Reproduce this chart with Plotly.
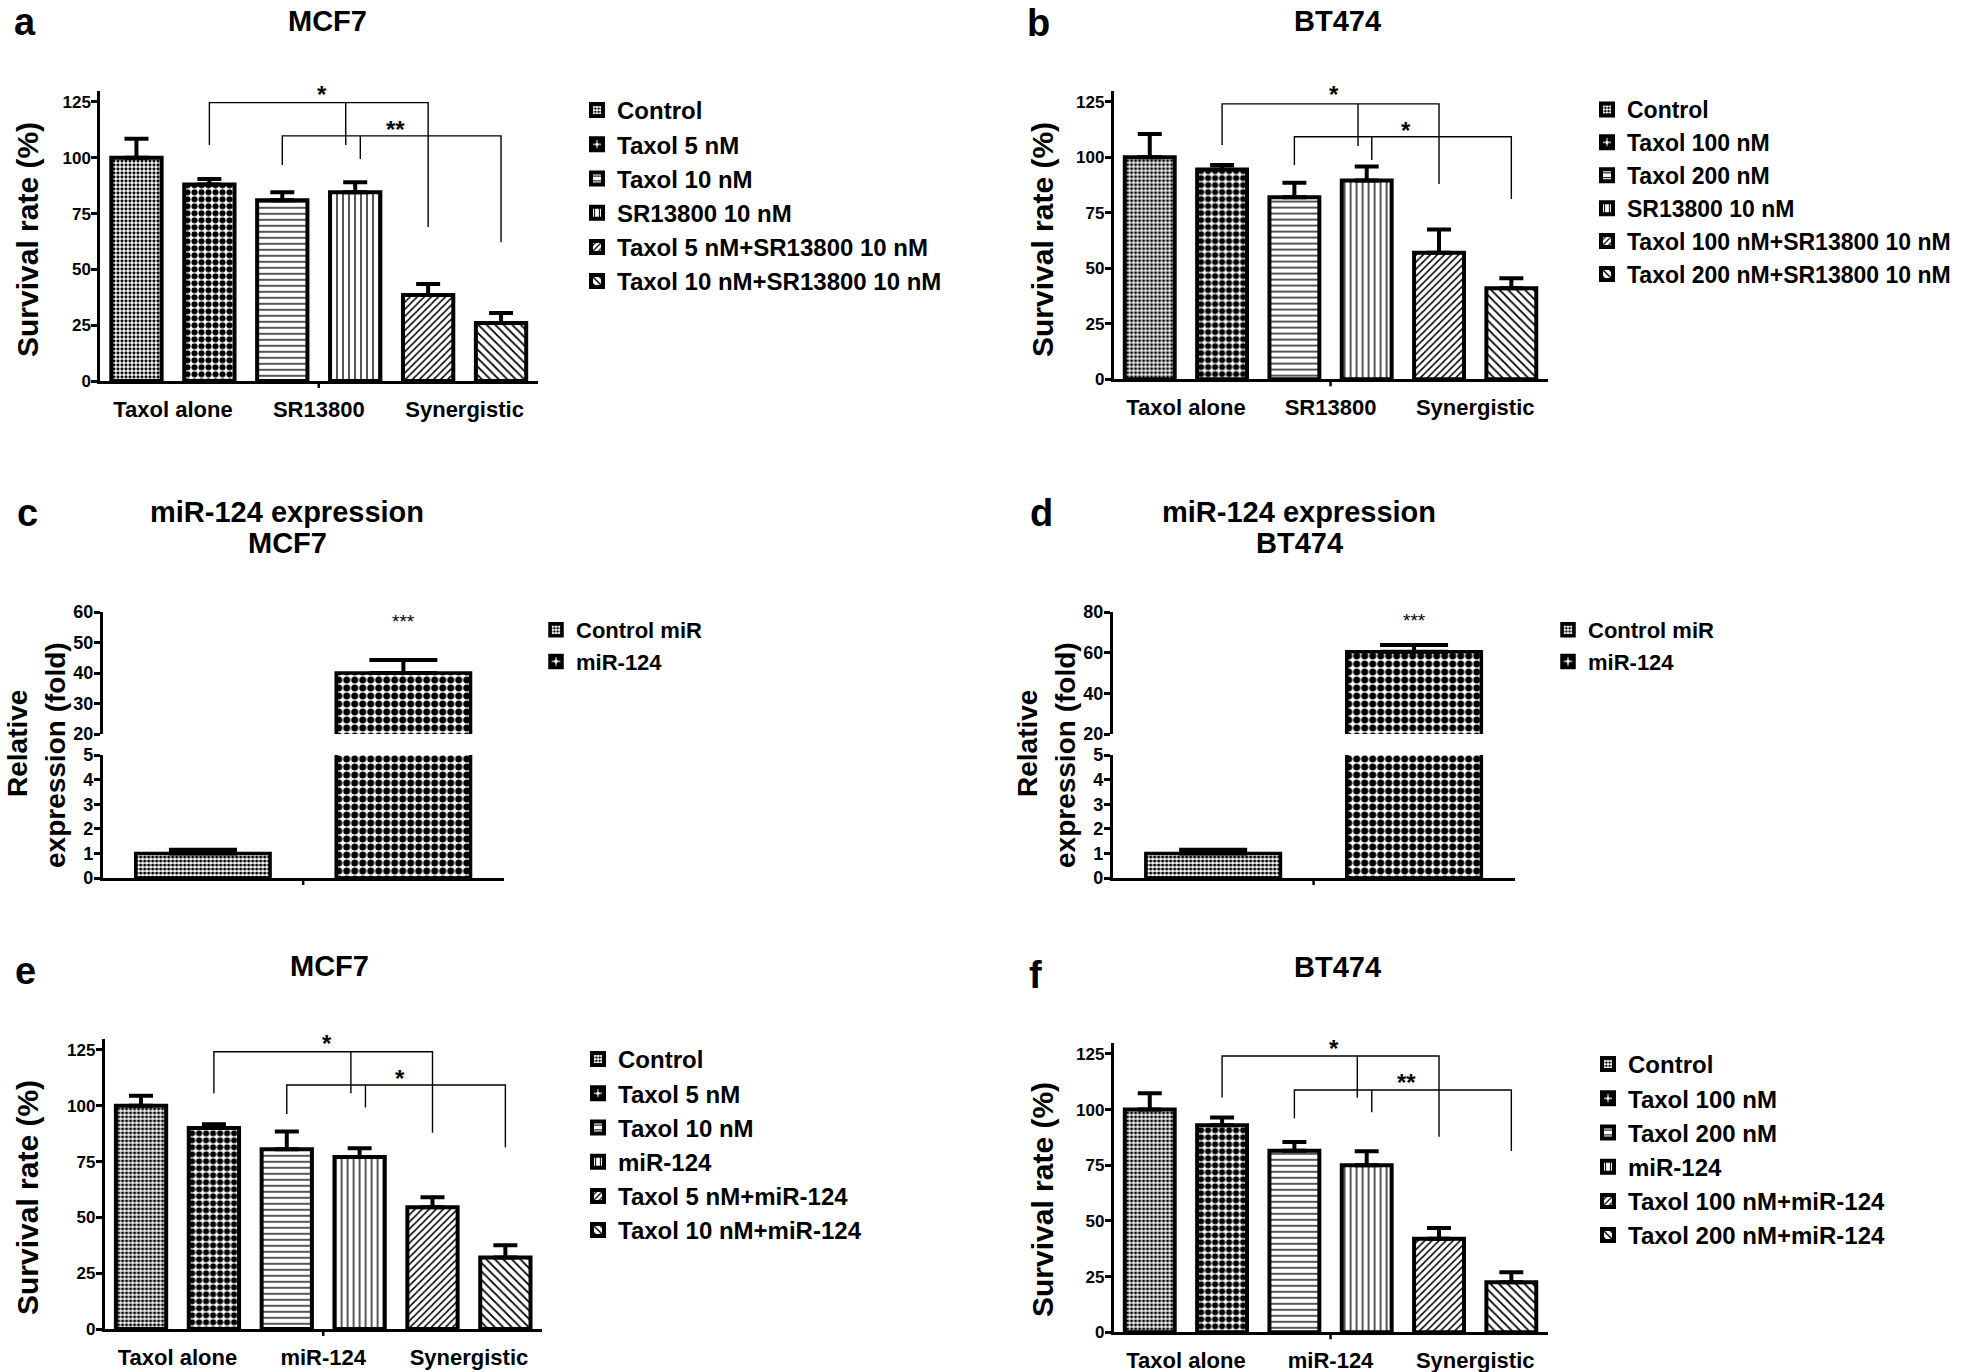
import plotly.graph_objects as go

W, H = 1961, 1372
FONT = "Liberation Sans, Arial, sans-serif"
YMAX = 130

# ---- data ----
groups_sr = ["Taxol alone", "SR13800", "Synergistic"]
groups_mir = ["Taxol alone", "miR-124", "Synergistic"]

names_a = ["Control", "Taxol 5 nM", "Taxol 10 nM", "SR13800 10 nM",
           "Taxol 5 nM+SR13800 10 nM", "Taxol 10 nM+SR13800 10 nM"]
names_b = ["Control", "Taxol 100 nM", "Taxol 200 nM", "SR13800 10 nM",
           "Taxol 100 nM+SR13800 10 nM", "Taxol 200 nM+SR13800 10 nM"]
names_e = ["Control", "Taxol 5 nM", "Taxol 10 nM", "miR-124",
           "Taxol 5 nM+miR-124", "Taxol 10 nM+miR-124"]
names_f = ["Control", "Taxol 100 nM", "Taxol 200 nM", "miR-124",
           "Taxol 100 nM+miR-124", "Taxol 200 nM+miR-124"]
names_mir = ["Control miR", "miR-124"]

survival_a = [100, 88, 81, 84.5, 38.5, 26]
sem_a = [8.5, 2.5, 3.5, 4.5, 5, 4.5]
survival_b = [100, 94.5, 82, 89.5, 57, 41]
sem_b = [10.5, 2, 6.5, 6.3, 10.5, 4.5]
survival_e = [100, 90, 80.5, 77, 54.5, 32]
sem_e = [4.5, 1.7, 8, 4, 4.5, 5.5]
survival_f = [100, 93, 81.5, 75, 42, 22.5]
sem_f = [7.3, 3.5, 3.9, 6.3, 4.8, 4.5]

expr_c = [1, 40]
sem_c = [0.15, 4.3]
expr_d = [1, 60.5]
sem_d = [0.15, 3.3]

# brackets: left bar, middle drop x, right bar, top, left drop, middle drop, right drop, label, label x, label y
brackets_a = [(1, 2.87, 4, 124.7, 105.7, 105.7, 69, "*", 2.55, 131),
              (2, 3.07, 5, 109.8, 96.8, 99.4, 62.2, "**", 3.55, 115)]
brackets_b = [(1, 2.88, 4, 124, 105.5, 105, 87.9, "*", 2.55, 130.6),
              (2, 3.07, 5, 109.2, 96.5, 98.8, 81.2, "*", 3.55, 114.5)]
brackets_e = [(1, 2.88, 4, 124.2, 105.6, 105.6, 87.9, "*", 2.55, 130.2),
              (2, 3.08, 5, 109.3, 96.3, 99.2, 81.4, "*", 3.55, 114.7)]
brackets_f = [(1, 2.87, 4, 124.1, 105.4, 105.4, 87.8, "*", 2.55, 129.8),
              (2, 3.07, 5, 108.8, 96.1, 98.8, 81.4, "**", 3.55, 114.5)]

# ---- styling ----
PATTERNS = [dict(shape=".", size=4, solidity=0.5),
            dict(shape=".", size=7, solidity=0.6),
            dict(shape="-", size=6, solidity=0.22),
            dict(shape="|", size=6, solidity=0.22),
            dict(shape="/", size=5, solidity=0.3),
            dict(shape="\\", size=6, solidity=0.3)]
PATTERNS_MIR = [dict(shape=".", size=4, solidity=0.5),
                dict(shape=".", size=8, solidity=0.6)]


def px(xp):
    return xp / W


def py(yp):
    return 1 - yp / H


def key(ax):
    return ax[0] + "axis" + ax[1:]


def bold(size):
    return dict(family=FONT, size=size, color="black", weight="bold")


fig = go.Figure()
layout = dict(width=W, height=H, margin=dict(l=0, r=0, t=0, b=0, autoexpand=False),
              paper_bgcolor="white", plot_bgcolor="white", barmode="overlay",
              showlegend=True)
annotations = []
shapes = []


def text(x, y, s, size, angle=0):
    annotations.append(dict(x=px(x), y=py(y), xref="paper", yref="paper", text=s,
                            showarrow=False, font=bold(size), textangle=angle,
                            xanchor="center", yanchor="middle"))


def legend_cfg(text_x, first_y, size):
    return dict(x=px(text_x - 40), y=py(first_y - 21), xanchor="left", yanchor="top",
                font=bold(size), bgcolor="rgba(0,0,0,0)", borderwidth=0,
                tracegroupgap=0)


def survival_panel(xa, ya, xdom, ydom, names, vals, errs, groups, brackets, leg):
    for i, (n, v, e) in enumerate(zip(names, vals, errs)):
        fig.add_trace(go.Bar(
            x=[i], y=[v], width=0.69, name=n, legend=leg, xaxis=xa, yaxis=ya,
            marker=dict(color="white", line=dict(color="black", width=4),
                        pattern=dict(fgcolor="black", bgcolor="white",
                                     fillmode="replace", **PATTERNS[i])),
            error_y=dict(type="data", array=[e], arrayminus=[0], symmetric=False,
                         color="black", thickness=4, width=12),
            hoverinfo="skip"))
    for (l, m, r, top, ld, md, rd, lab, lx, ly) in brackets:
        fig.add_trace(go.Scatter(
            x=[l, l, r, r, None, m, m], y=[ld, top, top, rd, None, top, md],
            mode="lines", line=dict(color="black", width=1.4),
            showlegend=False, hoverinfo="skip", xaxis=xa, yaxis=ya))
        annotations.append(dict(x=lx, y=ly / YMAX, xref=xa, yref=ya + " domain",
                                text=lab, showarrow=False, font=bold(24), yshift=10))
    layout[key(xa)] = dict(domain=[px(xdom[0]), px(xdom[1])], range=[-0.5, 5.5],
                           anchor=ya, showline=True, linewidth=2.5, linecolor="black",
                           tickvals=[0.5, 2.5, 4.5], ticktext=groups, ticks="",
                           tickfont=bold(22), ticklabelstandoff=7,
                           showgrid=False, zeroline=False)
    layout[key(ya)] = dict(domain=[py(ydom[1]), py(ydom[0])], range=[0, YMAX],
                           anchor=xa, showline=True, linewidth=2.5, linecolor="black",
                           ticks="outside", ticklen=6, tickwidth=2.5, tickcolor="black",
                           tickvals=[0, 25, 50, 75, 100, 125], tickfont=bold(17),
                           ticklabelstandoff=-3, showgrid=False, zeroline=False)
    shapes.append(dict(type="line", xref=xa, yref=ya + " domain", x0=2.5, x1=2.5,
                       y0=0, y1=-7 / (ydom[1] - ydom[0]),
                       line=dict(color="black", width=2.5)))


def expression_panel(xa, ylo, yhi, xdom, names, vals, errs, up_range, up_ticks, leg, star_y):
    lo_dom = (755, 878)
    hi_dom = (612, 734)
    for i, (n, v, e) in enumerate(zip(names, vals, errs)):
        for ya, show in ((ylo, True), (yhi, False)):
            fig.add_trace(go.Bar(
                x=[i], y=[v], width=0.67, name=n, legend=leg, showlegend=show,
                xaxis=xa, yaxis=ya,
                marker=dict(color="white", line=dict(color="black", width=3.5),
                            pattern=dict(fgcolor="black", bgcolor="white",
                                         fillmode="replace", **PATTERNS_MIR[i])),
                error_y=dict(type="data", array=[e], arrayminus=[0], symmetric=False,
                             color="black", thickness=4, width=34),
                hoverinfo="skip"))
    annotations.append(dict(x=1, y=star_y, xref=xa, yref=yhi, text="***", showarrow=False,
                            font=dict(family=FONT, size=19, color="black")))
    layout[key(xa)] = dict(domain=[px(xdom[0]), px(xdom[1])], range=[-0.5, 1.5],
                           anchor=ylo, showline=True, linewidth=2.5, linecolor="black",
                           showticklabels=False, ticks="", showgrid=False, zeroline=False)
    common = dict(anchor=xa, showline=True, linewidth=2.5, linecolor="black",
                  ticks="outside", ticklen=6, tickwidth=2.5, tickcolor="black",
                  tickfont=bold(18), ticklabelstandoff=-3,
                  showgrid=False, zeroline=False)
    layout[key(ylo)] = dict(domain=[py(lo_dom[1]), py(lo_dom[0])], range=[0, 5],
                            tickvals=[0, 1, 2, 3, 4, 5], **common)
    layout[key(yhi)] = dict(domain=[py(hi_dom[1]), py(hi_dom[0])], range=up_range,
                            tickvals=up_ticks, **common)
    shapes.append(dict(type="line", xref=xa, yref=ylo + " domain", x0=0.5, x1=0.5,
                       y0=0, y1=-7 / (lo_dom[1] - lo_dom[0]),
                       line=dict(color="black", width=2.5)))


survival_panel("x", "y", (100, 537.5), (90.8, 381), names_a, survival_a, sem_a,
               groups_sr, brackets_a, "legend")
survival_panel("x2", "y2", (1113.6, 1547.5), (90.6, 379.3), names_b, survival_b, sem_b,
               groups_sr, brackets_b, "legend2")
expression_panel("x3", "y3", "y4", (102.7, 503.6), names_mir, expr_c, sem_c,
                 [20, 60], [20, 30, 40, 50, 60], "legend3", 57)
expression_panel("x4", "y5", "y6", (1112.7, 1514.5), names_mir, expr_d, sem_d,
                 [20, 80], [20, 40, 60, 80], "legend4", 76)
survival_panel("x5", "y7", (104.6, 541.8), (1038.8, 1329), names_e, survival_e, sem_e,
               groups_mir, brackets_e, "legend5")
survival_panel("x6", "y8", (1113.6, 1547.5), (1042.8, 1332.3), names_f, survival_f, sem_f,
               groups_mir, brackets_f, "legend6")

layout["legend"] = legend_cfg(617, 109, 24)
layout["legend2"] = legend_cfg(1627, 109, 23)
layout["legend3"] = legend_cfg(576, 630, 22)
layout["legend4"] = legend_cfg(1588, 630, 22)
layout["legend5"] = legend_cfg(618, 1058, 24)
layout["legend6"] = legend_cfg(1628, 1063, 24)

# panel letters
for letter, x, y in (("a", 25, 22), ("b", 1038, 23), ("c", 27, 513),
                     ("d", 1041, 513), ("e", 25, 971), ("f", 1035, 975)):
    text(x, y, letter, 38)

# panel titles
text(327, 21, "MCF7", 29)
text(1337, 21, "BT474", 29)
text(287, 512, "miR-124 expression", 29)
text(287, 543, "MCF7", 29)
text(1299, 512, "miR-124 expression", 29)
text(1299, 543, "BT474", 29)
text(329, 966, "MCF7", 29)
text(1337, 967, "BT474", 29)

# y axis titles
for x, y in ((27, 240), (1042, 240), (27, 1198), (1042, 1200)):
    text(x, y, "Survival rate (%)", 30, angle=-90)
for x0 in (0, 1010):
    text(x0 + 17, 744, "Relative", 28, angle=-90)
    text(x0 + 55, 755, "expression (fold)", 28, angle=-90)

layout["annotations"] = annotations
layout["shapes"] = shapes
fig.update_layout(**layout)

fig.write_html("out.html", config={"displayModeBar": False},
               post_script="document.body.style.margin = '0px';")
